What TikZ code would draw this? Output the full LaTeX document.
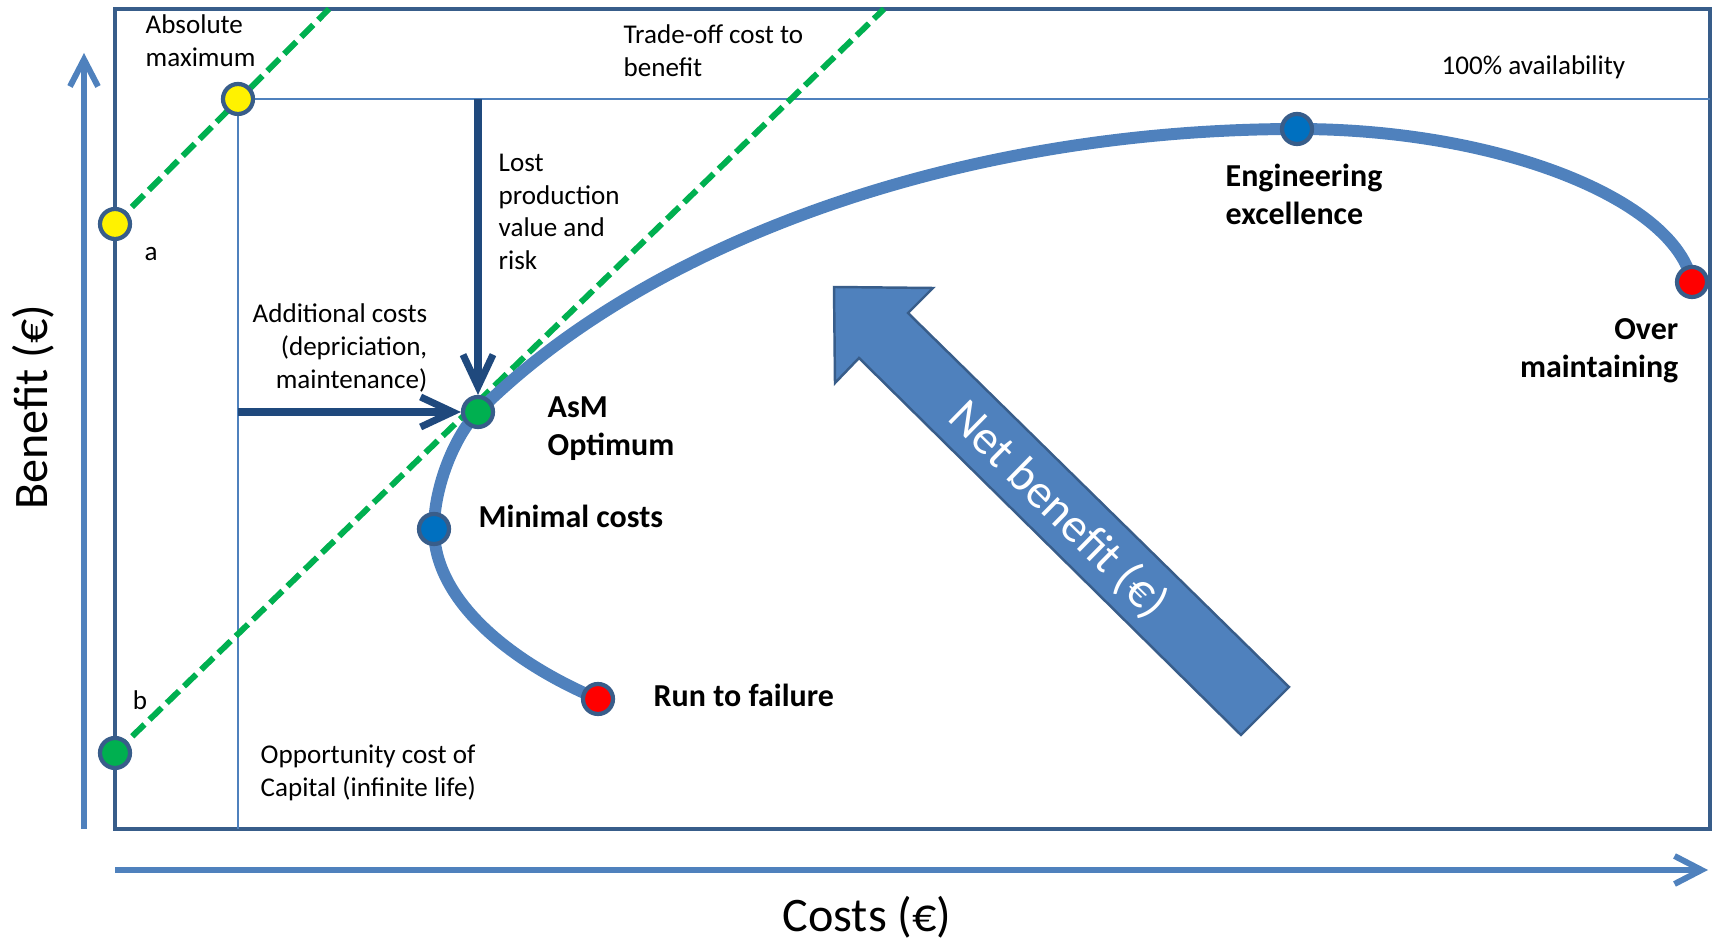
\documentclass[tikz,border=0pt]{standalone}
\usepackage{fontspec}
\setmainfont{Carlito}
\usetikzlibrary{arrows.meta,backgrounds}
\definecolor{axisblue}{RGB}{79,129,189}
\definecolor{framebl}{RGB}{56,93,138}
\definecolor{darkbl}{RGB}{31,73,125}
\definecolor{dashgreen}{RGB}{0,176,80}
\definecolor{ptblue}{RGB}{0,112,192}
\tikzset{
  pointdot/.style={circle, draw=framebl, line width=1.2pt, minimum size=3mm, inner sep=0pt, fill=#1},
  smalltext/.style={inner sep=0pt, font=\fontsize{7.7}{9.3}\selectfont},
  boldtext/.style={inner sep=0pt, font=\fontsize{9.1}{10.8}\selectfont\bfseries},
  axistext/.style={inner sep=0pt, font=\fontsize{13.7}{16}\selectfont},
  axisline/.style={axisblue, line width=1.7pt, -{Straight Barb[length=2.7mm,width=2.8mm]}},
  costarrow/.style={darkbl, line width=2pt, -{Straight Barb[length=3.2mm,width=3mm]}},
  tradeoff/.style={dashgreen, line width=1.7pt, dash pattern=on 1.7mm off 0.7mm},
  thinline/.style={axisblue, line width=0.7pt},
  lifecurve/.style={axisblue, line width=3.4pt, line cap=round},
}
\begin{document}
\begin{tikzpicture}[x=0.1mm, y=-0.1mm]
  \useasboundingbox (0,0) rectangle (1715,941);
  \coordinate (tl) at (115,9);
  \coordinate (br) at (1710,829);
  \coordinate (topa) at (329,9);
  \coordinate (topb) at (884,9);
  %
  \foreach \nm/\px/\py/\col in {amax/238/99/yellow, pa/115/224/yellow, pb/115/753/dashgreen,
      asm/478/412/dashgreen, mincost/434/529/ptblue, rtf/598/699/red,
      engex/1297/129/ptblue, overm/1692/282/red} {
    \node[pointdot=\col] (\nm) at (\px,\py) {};
  }
  %
  \begin{scope}[on background layer]
    \draw[framebl, line width=1.4pt] (tl) rectangle (br);
    \draw[thinline] (amax.center) -- (amax.center -| br);
    \draw[thinline] (amax.center) -- (amax.center |- br);
    \draw[tradeoff] (pa.center) -- (topa);
    \draw[tradeoff] (pb.center) -- (topb);
    \draw[lifecurve] (rtf.center) .. controls (510,662) and (434,600) .. (mincost.center)
      .. controls (434,485) and (456,434) .. (asm.center)
      .. controls (648,242) and (960,129) .. (engex.center)
      .. controls (1500,129) and (1675,200) .. (overm.center);
  \end{scope}
  %
  \draw[axisline] (84,829) -- (84,53);
  \draw[axisline] (115,870) -- (1708,870);
  \draw[costarrow] (asm |- amax) -- (asm);
  \draw[costarrow] (amax |- asm) -- (asm);
  %
  \draw[framebl, line width=0.7pt, fill=axisblue] (834,287) -- (933,288) -- (908,313) -- (1289,687)
    -- (1241,735) -- (859,358) -- (835,383) -- cycle;
  \node[axistext, text=white, rotate=-44.5] (netlab) at (1058,510) {Net benefit (€)};
  %
  \node[smalltext, anchor=west, align=left] (absmax) at (145,41) {Absolute\\maximum};
  \node[smalltext] (alab) at (151,254) {a};
  \node[smalltext] (blab) at (140,700) {b};
  \node[smalltext, anchor=west, align=left] (tradelab) at (623,51) {Trade-off cost to\\benefit};
  \node[smalltext, anchor=west] (availlab) at (1441,67) {100\% availability};
  \node[smalltext, anchor=west, align=left] (lostlab) at (498,212) {Lost\\production\\value and\\risk};
  \node[smalltext, anchor=east, align=right] (addlab) at (428,348) {Additional costs\\(depriciation,\\maintenance)};
  \node[smalltext, anchor=west, align=left] (opplab) at (260,773) {Opportunity cost of\\Capital (infinite life)};
  \node[boldtext, anchor=west] (rtflab) at (653,695) {Run to failure};
  \node[boldtext, anchor=west] (mclab) at (478,516) {Minimal costs};
  \node[boldtext, anchor=west, align=left] (asmlab) at (547,429) {AsM\\Optimum};
  \node[boldtext, anchor=west, align=left] (eelab) at (1225,194) {Engineering\\excellence};
  \node[boldtext, anchor=east, align=right] (omlab) at (1679,351) {Over\\maintaining};
  \node[axistext, rotate=90] (benlab) at (33,407) {Benefit (€)};
  \node[axistext] (costlab) at (867,917) {Costs (€)};
\end{tikzpicture}
\end{document}
